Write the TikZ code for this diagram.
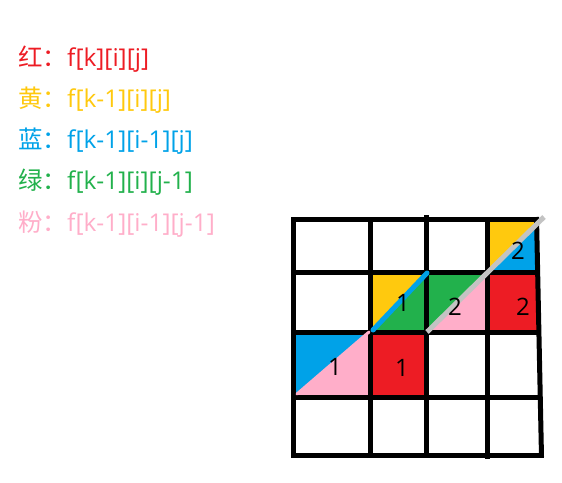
\documentclass[tikz,border=0pt]{standalone}
\usepackage{fontspec}
\setmainfont{Open Sans}
\newfontfamily\cjk{Noto Sans CJK SC}
\definecolor{paintred}{HTML}{ED1C24}
\definecolor{paintyellow}{HTML}{FFC90E}
\definecolor{paintblue}{HTML}{00A2E8}
\definecolor{paintgreen}{HTML}{22B14C}
\definecolor{paintpink}{HTML}{FFAEC9}
\definecolor{paintgray}{HTML}{C3C3C3}
\tikzset{
    gridline/.style={black, line width=5pt},
    digit/.style={inner sep=0pt, font=\fontsize{24}{28}\selectfont},
}
\begin{document}
\begin{tikzpicture}[x=1pt, y=-1pt, ampersand replacement=\&]
    \useasboundingbox (0,0) rectangle (562,482);
    % legend
    \matrix (legend) [matrix anchor=lred.base west, font=\fontsize{24.5}{28}\selectfont,
            nodes={anchor=base west, inner sep=0pt}, row sep={41.3pt,between origins}] at (18,66) {
        \node (lred) [text=paintred] {{\cjk 红：}f[k][i][j]}; \\
        \node (lyellow) [text=paintyellow] {{\cjk 黄：}f[k-1][i][j]}; \\
        \node (lblue) [text=paintblue] {{\cjk 蓝：}f[k-1][i-1][j]}; \\
        \node (lgreen) [text=paintgreen] {{\cjk 绿：}f[k-1][i][j-1]}; \\
        \node (lpink) [text=paintpink] {{\cjk 粉：}f[k-1][i-1][j-1]}; \\
    };
    % coloured cells
    \fill[paintblue] (296,335) rectangle (368,395);
    \fill[paintpink] (296,395) -- (368,333) -- (368,395) -- cycle;
    \fill[paintred] (372,335) rectangle (424,395);
    \fill[paintyellow] (372,275) rectangle (424,330);
    \fill[paintgreen] (373,330) -- (425,274) -- (425,330) -- cycle;
    \fill[paintgreen] (429,275) rectangle (485,330);
    \fill[paintpink] (428,331) -- (485,276) -- (485,330) -- cycle;
    \fill[paintred] (490,275) rectangle (539,330);
    \fill[paintyellow] (490,222) rectangle (536,270);
    \fill[paintblue] (490,271) -- (536,227) -- (536,270) -- cycle;
    % grid
    \foreach \y/\xe in {219/539, 272.5/540, 332.5/541, 397.5/542, 455/544}
        \draw[gridline] (291,\y) -- (\xe,\y);
    \foreach \xa/\xb/\ya/\yb in {293.5/293.5/217/457, 370/370/217/457, 426.5/426.5/215/457,
            487.5/487.5/217/459, 536.5/541.5/217/457}
        \draw[gridline] (\xa,\ya) -- (\xb,\yb);
    % diagonals
    \draw[paintpink, line width=3pt, line cap=round] (297,394) -- (369,332);
    \draw[paintblue, line width=5pt, line cap=round] (373,330) -- (427,273);
    \draw[paintgray, line width=5pt] (427,332) -- (544,217);
    % counts
    \node[digit] (c31) at (335,367) {1};
    \node[digit] (c32) at (402,368) {1};
    \node[digit] (c22) at (403,303) {1};
    \node[digit] (c23) at (455,307) {2};
    \node[digit] (c24) at (523,307) {2};
    \node[digit] (c14) at (518,251) {2};
\end{tikzpicture}
\end{document}
